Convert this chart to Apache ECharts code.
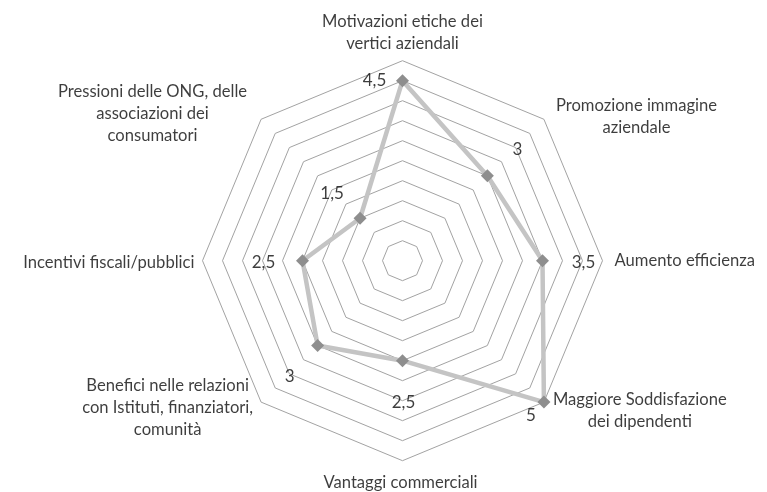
<!DOCTYPE html>
<html>
<head>
<meta charset="utf-8">
<script src="https://cdn.jsdelivr.net/npm/echarts@6/dist/echarts.min.js"></script>
<style>
  html, body { margin: 0; padding: 0; background: #ffffff; }
  #chart { width: 767px; height: 492px; }
</style>
</head>
<body>
<div id="chart"></div>
<script>
// Axes listed clockwise, starting from the top
const categories = [
  'Motivazioni etiche dei\nvertici aziendali',
  'Promozione immagine\naziendale',
  'Aumento efficienza',
  'Maggiore Soddisfazione\ndei dipendenti',
  'Vantaggi commerciali',
  'Benefici nelle relazioni\ncon Istituti, finanziatori,\ncomunità',
  'Incentivi fiscali/pubblici',
  'Pressioni delle ONG, delle\nassociazioni dei\nconsumatori'
];
const values = [4.5, 3, 3.5, 5, 2.5, 3, 2.5, 1.5];
const scaleMax = 5;
const ringCount = 10;

// Shared geometry of the radar grid and the label overlay
const CENTER = [402.5, 260.7];
const RADIUS = 200;
const FONT = 'Lato';
const FONT_SIZE = 16.6;
const TEXT_COLOR = '#0d0d0d';

// Placement of the category names around the outer ring
const nameLayout = [
  { align: 'center', verticalAlign: 'bottom', offset: [0, -6] },
  { align: 'left',   verticalAlign: 'middle', offset: [12, -3] },
  { align: 'left',   verticalAlign: 'middle', offset: [12, 0] },
  { align: 'left',   verticalAlign: 'middle', offset: [9, 9] },
  { align: 'center', verticalAlign: 'top',    offset: [-2, 11] },
  { align: 'right',  verticalAlign: 'middle', offset: [-8, 6] },
  { align: 'right',  verticalAlign: 'middle', offset: [-8, 2] },
  { align: 'right',  verticalAlign: 'middle', offset: [-14, -6] }
];
// Placement of the value labels relative to each marker
const valueOffsets = [
  [-28, 0], [30, -26], [41, 2], [-13, 13],
  [1, 42], [-28, 31], [-39, 2], [-28, -25]
];

const n = categories.length;
// ECharts lays radar indicators out counter-clockwise from the top
const radarOrder = [0];
for (let i = n - 1; i >= 1; i--) radarOrder.push(i);

const chart = echarts.init(document.getElementById('chart'), null, { renderer: 'canvas' });

const fmt = v => String(v).replace('.', ',');

chart.setOption({
  backgroundColor: '#ffffff',
  animation: false,
  radar: {
    center: CENTER,
    radius: RADIUS,
    startAngle: 90,
    shape: 'polygon',
    splitNumber: ringCount,
    indicator: radarOrder.map(i => ({ name: categories[i], min: 0, max: scaleMax })),
    axisName: { show: false },
    axisLine: { show: false },
    axisTick: { show: false },
    axisLabel: { show: false },
    splitArea: { show: false },
    splitLine: { lineStyle: { color: '#a3a3a3', width: 1 } }
  },
  polar: { center: CENTER, radius: RADIUS },
  radiusAxis: { min: 0, max: scaleMax, show: false },
  angleAxis: { type: 'value', min: 0, max: n, startAngle: 90, clockwise: true, show: false },
  series: [
    {
      type: 'radar',
      symbol: 'diamond',
      symbolSize: 13,
      z: 3,
      lineStyle: { color: '#c4c4c4', width: 4.5 },
      itemStyle: { color: '#8e8e8e' },
      data: [{ value: radarOrder.map(i => values[i]) }]
    },
    {
      // value labels
      type: 'scatter',
      coordinateSystem: 'polar',
      symbolSize: 0,
      silent: true,
      z: 4,
      data: values.map((v, i) => ({
        value: [v, i],
        label: { offset: valueOffsets[i] }
      })),
      label: {
        show: true,
        position: 'inside',
        align: 'center',
        verticalAlign: 'middle',
        formatter: p => fmt(p.value[0]),
        fontFamily: FONT,
        fontSize: 17,
        color: TEXT_COLOR
      }
    },
    {
      // category names
      type: 'scatter',
      coordinateSystem: 'polar',
      symbolSize: 0,
      silent: true,
      z: 4,
      data: categories.map((c, i) => ({
        value: [scaleMax, i],
        name: c,
        label: nameLayout[i]
      })),
      label: {
        show: true,
        position: 'inside',
        formatter: p => p.name.split('\n').map(s => '{c|' + s + '}').join('\n'),
        fontFamily: FONT,
        fontSize: FONT_SIZE,
        color: TEXT_COLOR,
        lineHeight: 22,
        rich: {
          c: {
            align: 'center',
            fontFamily: FONT,
            fontSize: FONT_SIZE,
            color: TEXT_COLOR,
            lineHeight: 22
          }
        }
      }
    }
  ]
});
</script>
</body>
</html>
